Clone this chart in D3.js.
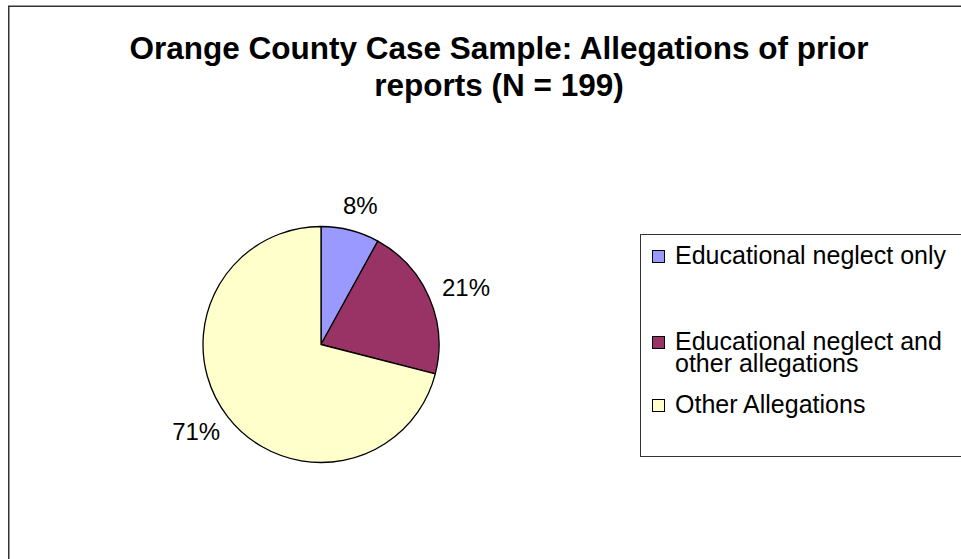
<!DOCTYPE html>
<html>
<head>
<meta charset="utf-8">
<script src="https://cdn.jsdelivr.net/npm/d3@7"></script>
<style>
  html, body { margin: 0; padding: 0; background: #fff; }
  svg { display: block; }
  text { font-family: "Liberation Sans", Arial, sans-serif; }
</style>
</head>
<body>
<svg id="chart" width="961" height="559"></svg>
<script>
const titleLines = ["Orange County Case Sample: Allegations of prior", "reports (N = 199)"];
const categories = ["Educational neglect only", "Educational neglect and other allegations", "Other Allegations"];
const legendLines = [["Educational neglect only"], ["Educational neglect and", "other allegations"], ["Other Allegations"]];
const values = [8, 21, 71];
const colors = ["#9999FF", "#993366", "#FFFFCC"];

const svg = d3.select("#chart");

// outer chart border (extends past right/bottom edges)
svg.append("rect")
  .attr("x", 8.75).attr("y", 6.25)
  .attr("width", 1000).attr("height", 1000)
  .attr("fill", "#fff").attr("stroke", "#333").attr("stroke-width", 1.5);

// title
const title = svg.append("text")
  .attr("text-anchor", "middle")
  .attr("font-weight", "bold")
  .attr("font-size", 31.5)
  .attr("fill", "#000");
titleLines.forEach((t, i) => {
  title.append("tspan").attr("x", 499).attr("y", 59 + i * 37).text(t);
});

// pie
const cx = 321, cy = 344.5, r = 118;
const pie = d3.pie().sort(null).value(d => d)(values);
const arc = d3.arc().innerRadius(0).outerRadius(r);
const g = svg.append("g").attr("transform", `translate(${cx},${cy})`);
g.selectAll("path").data(pie).join("path")
  .attr("d", arc)
  .attr("fill", (d, i) => colors[i])
  .attr("stroke", "#000")
  .attr("stroke-width", 1.3)
  .attr("stroke-linejoin", "round");

// data labels outside (elliptical offset around the pie)
const lrx = r + 40, lry = r + 25;
const midAngle = d => (d.startAngle + d.endAngle) / 2;
g.selectAll("text.lbl").data(pie).join("text")
  .attr("class", "lbl")
  .attr("text-anchor", "middle")
  .attr("font-size", 24)
  .attr("fill", "#000")
  .attr("x", d => lrx * Math.sin(midAngle(d)))
  .attr("y", d => -lry * Math.cos(midAngle(d)) + 8)
  .text(d => d.data + "%");

// legend
const lg = svg.append("g");
lg.append("rect")
  .attr("x", 640.5).attr("y", 234.5)
  .attr("width", 400).attr("height", 222)
  .attr("fill", "#fff").attr("stroke", "#333").attr("stroke-width", 1);

const itemBase = [264, 350, 413];
const lineH = 22;
legendLines.forEach((lines, i) => {
  lg.append("rect")
    .attr("x", 652.5).attr("y", itemBase[i] - 13.5)
    .attr("width", 12).attr("height", 12)
    .attr("fill", colors[i]).attr("stroke", "#000").attr("stroke-width", 1);
  const t = lg.append("text").attr("font-size", 25).attr("fill", "#000");
  lines.forEach((s, j) => {
    t.append("tspan").attr("x", 675).attr("y", itemBase[i] + j * lineH).text(s);
  });
});
</script>
</body>
</html>
